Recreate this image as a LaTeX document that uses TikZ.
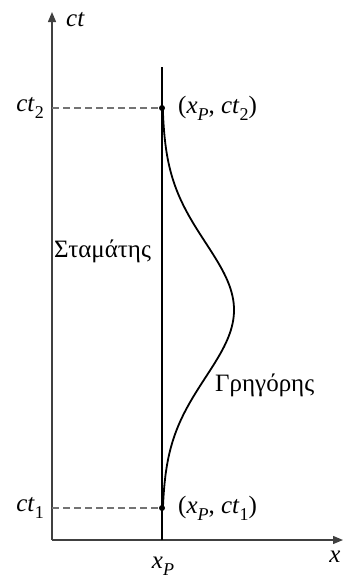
\documentclass[tikz,border=0pt]{standalone}
\usepackage{fontspec}
\setmainfont{Liberation Serif}
\usetikzlibrary{arrows.meta}
\newcommand\vv[1]{\textit{#1}}
\newcommand\sub[1]{\raisebox{-0.28em}{\fontsize{18}{20}\selectfont #1}}
\begin{document}
\begin{tikzpicture}[x=1pt,y=-1pt,
  axis/.style={draw=black!75,line width=1.3pt},
  world/.style={draw=black,line width=2.2pt},
  guide/.style={draw=black!55,line width=1.2pt,dash pattern=on 7pt off 4pt},
  lbl/.style={font=\fontsize{25}{28}\selectfont,inner sep=1pt},
  dot/.style={circle,fill=black,inner sep=0pt,minimum size=6pt}]
\useasboundingbox (0,0) rectangle (343,579);
\coordinate (O) at (52,540);
\coordinate (ytip) at (52,12);
\coordinate (xtip) at (343,540);
\coordinate (xb) at (162,540);
\coordinate (xtop) at (162,67);
\node[dot] (P2) at (162,108) {};
\node[dot] (P1) at (162,508) {};
\coordinate (a2) at (52,108);
\coordinate (a1) at (52,508);
\draw[axis,-{Triangle[length=10pt,width=8pt]}] (O) -- (ytip);
\draw[axis,-{Triangle[length=10pt,width=8pt]}] (O) -- (xtip);
\draw[world] (xb) -- (xtop);
\draw[guide] (a2) -- (P2);
\draw[guide] (a1) -- (P1);
\draw[world,line width=1.8pt] plot[domain=108:508,samples=120,smooth,variable=\t]
  ({162+72*exp(-((\t-310)/95)^2)},\t);
\node[lbl,anchor=west] (ctl) at (65,20) {\vv{ct}};
\node[lbl,anchor=east] (ct2) at (45,108) {\vv{ct}\sub{2}};
\node[lbl,anchor=east] (ct1) at (45,508) {\vv{ct}\sub{1}};
\node[lbl,anchor=west] (p2l) at (177,108) {(\vv{x}\sub{\vv{P}}, \vv{ct}\sub{2})};
\node[lbl,anchor=west] (p1l) at (177,508) {(\vv{x}\sub{\vv{P}}, \vv{ct}\sub{1})};
\node[lbl] (xpl) at (163,566) {\vv{x}\sub{\vv{P}}};
\node[lbl] (xl) at (335,557) {\vv{x}};
\node[lbl,anchor=west] (sl) at (53,251) {Σταμάτης};
\node[lbl,anchor=west] (gl) at (214,385) {Γρηγόρης};
\end{tikzpicture}
\end{document}
